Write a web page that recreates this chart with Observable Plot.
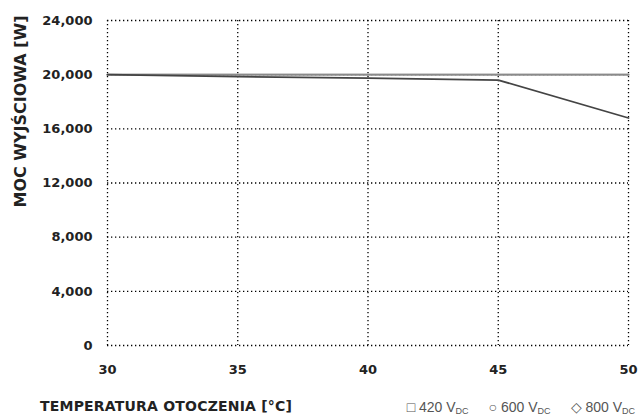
<!DOCTYPE html>
<html>
<head>
<meta charset="utf-8">
<script src="https://cdn.jsdelivr.net/npm/d3@7"></script>
<script src="https://cdn.jsdelivr.net/npm/@observablehq/plot@0.6"></script>
<style>
  html, body { margin: 0; padding: 0; background: #fff; }
  #wrap { width: 638px; height: 418px; position: relative; overflow: hidden; }
  #bottom { position: absolute; left: 0; top: 398px; width: 638px; height: 20px; }
  #xlabel { position: absolute; left: 40px; top: 0; font: bold 14px "DejaVu Sans", sans-serif; color: #222; letter-spacing: 0.2px; }
  #legend { position: absolute; right: 3px; top: 1px; font: 14px "Liberation Sans", "Noto Sans", sans-serif; color: #555; white-space: nowrap; }
  #legend span.item { margin-left: 20px; }
  #legend sub { font-size: 9px; vertical-align: -2px; }
</style>
</head>
<body>
<div id="wrap">
  <div id="chart"></div>
  <div id="bottom">
    <div id="xlabel"></div>
    <div id="legend"></div>
  </div>
</div>
<script>
const temperatures = [30, 35, 40, 45, 50];
const power420 = [20000, 20000, 20000, 20000, 20000];
const power600 = [20000, 20000, 20000, 20000, 20000];
const power800 = [20000, 19850, 19750, 19600, 16800];
const seriesNames = ["420", "600", "800"];
const seriesSymbols = ["□", "○", "◇"];
const xTicks = [30, 35, 40, 45, 50];
const yTicks = [0, 4000, 8000, 12000, 16000, 20000, 24000];
const xLabel = "TEMPERATURA OTOCZENIA [°C]";
const yLabel = "MOC WYJŚCIOWA [W]";

const seriesValues = [power420, power600, power800];
const rows = [];
seriesNames.forEach((s, i) => {
  temperatures.forEach((t, j) => rows.push({series: s, t, p: seriesValues[i][j]}));
});
const seriesColors = {"420": "#9a9a9a", "600": "#8a8a8a", "800": "#444"};

const chart = Plot.plot({
  width: 638,
  height: 392,
  marginLeft: 107,
  marginRight: 10,
  marginTop: 20,
  marginBottom: 47,
  style: {fontFamily: "DejaVu Sans, sans-serif", fontSize: "13px", fontWeight: "bold", color: "#222", background: "#fff"},
  x: {domain: [30, 50], ticks: xTicks, tickSize: 0, tickPadding: 19, label: null},
  y: {domain: [0, 24000], ticks: yTicks, tickSize: 0, tickPadding: 15, tickFormat: d3.format(","), label: null},
  marks: [
    Plot.gridY(yTicks, {stroke: "#000", strokeOpacity: 1, strokeWidth: 1.3, strokeDasharray: "1.3,2.7"}),
    Plot.gridX(xTicks, {stroke: "#000", strokeOpacity: 1, strokeWidth: 1.3, strokeDasharray: "1.3,2.7"}),
    Plot.line(rows, {x: "t", y: "p", z: "series", stroke: d => seriesColors[d.series], strokeWidth: 1.8}),
    Plot.axisX({ticks: xTicks, tickSize: 0, tickPadding: 19, fontWeight: "bold"}),
    Plot.axisY({ticks: yTicks, tickSize: 0, tickPadding: 15, tickFormat: d3.format(","), fontWeight: "bold"}),
    Plot.text([yLabel], {frameAnchor: "top-left", text: d => d, rotate: -90, textAnchor: "end", lineAnchor: "middle", dx: -87, dy: -5, fontWeight: "bold", fontSize: 16, fill: "#222"})
  ]
});
document.getElementById("chart").appendChild(chart);
document.getElementById("xlabel").textContent = xLabel;
document.getElementById("legend").innerHTML = seriesNames
  .map((s, i) => `<span class="item">${seriesSymbols[i]} ${s} V<sub>DC</sub></span>`).join("");
</script>
</body>
</html>
